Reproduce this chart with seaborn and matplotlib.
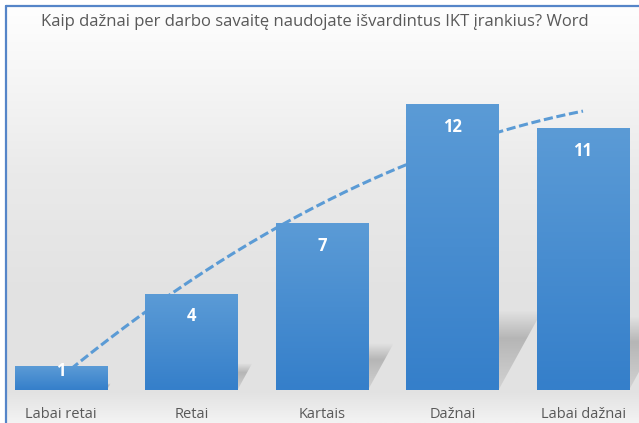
import numpy as np
import pandas as pd
import matplotlib.pyplot as plt
import seaborn as sns
from matplotlib.colors import LinearSegmentedColormap
from matplotlib.patches import Polygon
from matplotlib.lines import Line2D

sns.set_theme(style="white")
plt.rcParams["font.family"] = ["Open Sans", "DejaVu Sans"]

categories = ["Labai retai", "Retai", "Kartais", "Dažnai", "Labai dažnai"]
counts = [1, 4, 7, 12, 11]
title = "Kaip dažnai per darbo savaitę naudojate išvardintus IKT įrankius? Word"

df = pd.DataFrame({"atsakymas": categories, "kiekis": counts})

W, H = 639, 423
fig = plt.figure(figsize=(W / 100, H / 100), dpi=100)
fig.patch.set_facecolor("white")

# chart area background (soft vertical gradient)
bg = fig.add_axes([7 / W, 0, 1 - 7 / W, 1 - 7 / H], zorder=0)
bg_cmap = LinearSegmentedColormap.from_list(
    "bg", [(0, "#f3f3f3"), (0.07, "#e3e3e3"), (0.3, "#e2e2e2"),
           (0.6, "#eaeaea"), (0.85, "#f7f7f7"), (1, "#fefefe")])
bg.imshow(np.linspace(0, 1, 256)[:, None], cmap=bg_cmap, aspect="auto",
          origin="lower", extent=[0, 1, 0, 1])
bg.set_axis_off()

# blue chart border (left + top, rest is cropped)
border = "#5585c8"
fig.add_artist(Line2D([6 / W, 6 / W], [0, 1 - 6 / H], transform=fig.transFigure,
                      color=border, lw=1.6))
fig.add_artist(Line2D([6 / W, 1], [1 - 6 / H, 1 - 6 / H], transform=fig.transFigure,
                      color=border, lw=1.6))

ax = fig.add_axes([0, 33 / H, 1, (390 - 57.5) / H], zorder=1)
ax.patch.set_alpha(0)

sns.barplot(data=df, x="atsakymas", y="kiekis", width=0.705, color="#5b9bd5", ax=ax)

bar_cmap = LinearSegmentedColormap.from_list("bar", ["#357fca", "#5b9bd6"])
prof = np.linspace(0, 1, 100)
for p in ax.patches:
    x0, w, h = p.get_x(), p.get_width(), p.get_height()
    # soft perspective shadow behind the bar
    hs, dx = 0.28 * h, 0.028 * h
    poly = Polygon([(x0, 0), (x0 + w, 0), (x0 + w + dx, hs), (x0 + dx, hs)],
                   closed=True, facecolor="none", edgecolor="none")
    ax.add_patch(poly)
    shade = np.zeros((100, 1, 4))
    shade[..., :3] = 0.5
    shade[:, 0, 3] = 0.45 * np.clip(0.35 + prof, 0, 1) * np.clip((1 - prof) / 0.35, 0, 1)
    im = ax.imshow(shade, aspect="auto", origin="lower",
                   extent=[x0, x0 + w + dx, 0, hs], zorder=1.2)
    im.set_clip_path(poly)
    # gradient fill of the bar
    ax.imshow(prof[:, None], cmap=bar_cmap, aspect="auto",
              origin="lower", extent=[x0, x0 + w, 0, h], zorder=2)
    p.set_visible(False)

# polynomial (order 2) trendline, drawn behind the bars
xs = np.linspace(0, len(counts) - 1, 200)
coef = np.polyfit(np.arange(len(counts)), counts, 2)
ax.plot(xs, np.polyval(coef, xs), color="#5b9bd5", lw=2.2,
        ls=(0, (3, 1.2)), zorder=1.5)

for i, v in enumerate(counts):
    off = -min(22, 0.22 * v * 23.75) * 0.72
    ax.annotate(str(v), (i, v), xytext=(0, off), textcoords="offset points",
                ha="center", va="center", color="white", fontsize=12,
                fontweight="bold", zorder=3)

ax.set_xlim(-0.467, 4.429)
ax.set_ylim(0, 14)
ax.set_yticks([])
ax.set_xlabel("")
ax.set_ylabel("")
ax.tick_params(axis="x", length=0, pad=12, labelsize=10.5, colors="#595959")
for s in ax.spines.values():
    s.set_visible(False)

fig.text(315 / W, 1 - 22 / H, title, ha="center", va="center",
         fontsize=12, color="#595959")

fig.savefig("out.png", dpi=100)
